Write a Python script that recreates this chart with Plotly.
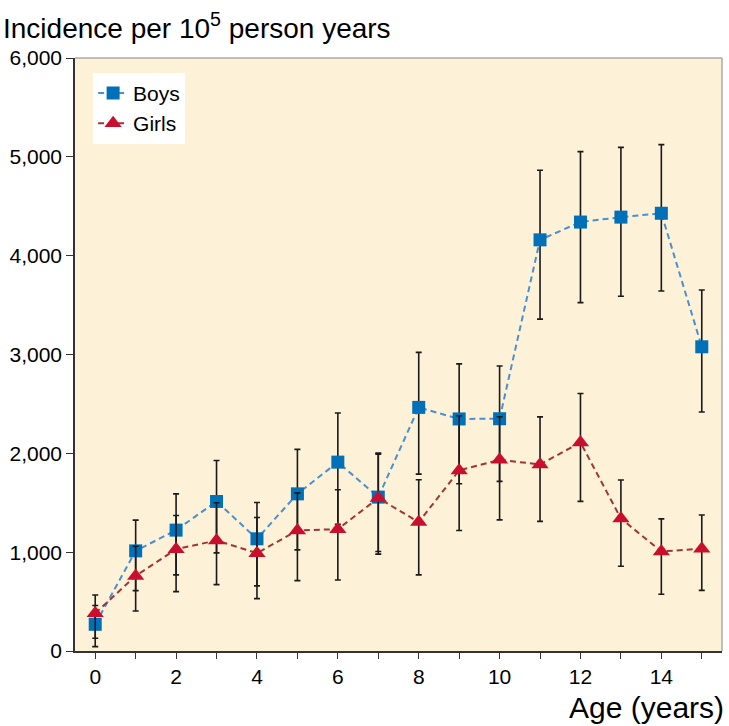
import plotly.graph_objects as go

ages = list(range(16))
boys = [270, 1013, 1223, 1513, 1135, 1590, 1911, 1557, 2465, 2348, 2350, 4160, 4340, 4390, 4429, 3078]
boys_lo = [44, 611, 770, 993, 659, 1023, 1283, 980, 1790, 1692, 1716, 3358, 3525, 3589, 3642, 2418]
boys_hi = [460, 1324, 1590, 1928, 1503, 2040, 2408, 2002, 3022, 2905, 2883, 4865, 5053, 5096, 5124, 3652]
girls = [382, 760, 1030, 1118, 990, 1219, 1233, 1547, 1304, 1827, 1935, 1887, 2110, 1340, 1007, 1035]
girls_lo = [129, 405, 601, 672, 530, 712, 719, 1006, 770, 1219, 1327, 1312, 1514, 858, 574, 613]
girls_hi = [567, 1060, 1371, 1500, 1351, 1600, 1631, 1990, 1733, 2380, 2370, 2369, 2606, 1730, 1337, 1376]
x_tick_vals = list(range(16))
x_tick_text = [str(a) if a % 2 == 0 else " " for a in x_tick_vals]
y_tick_vals = [0, 1000, 2000, 3000, 4000, 5000, 6000]

FONT = "Liberation Sans, Arial, Helvetica, sans-serif"

fig = go.Figure()
fig.add_trace(go.Scatter(
    x=ages, y=boys, name="Boys", mode="lines+markers",
    line=dict(color="#4A8FD3", width=2, dash="6px,4px"),
    marker=dict(symbol="square", size=13, color="#0070B8"),
    error_y=dict(type="data", symmetric=False,
                 array=[h - v for h, v in zip(boys_hi, boys)],
                 arrayminus=[v - l for l, v in zip(boys_lo, boys)],
                 color="#1a1a1a", thickness=1.6, width=3),
))
fig.add_trace(go.Scatter(
    x=ages, y=girls, name="Girls", mode="lines+markers",
    line=dict(color="#9E3636", width=2, dash="6px,4px"),
    marker=dict(symbol="triangle-up", size=15, color="#C8102E"),
    error_y=dict(type="data", symmetric=False,
                 array=[h - v for h, v in zip(girls_hi, girls)],
                 arrayminus=[v - l for l, v in zip(girls_lo, girls)],
                 color="#1a1a1a", thickness=1.6, width=3),
))

fig.update_layout(
    width=729, height=726,
    margin=dict(l=75, r=7, t=58, b=75),
    paper_bgcolor="white",
    plot_bgcolor="#FDF1D7",
    font=dict(family=FONT, size=20, color="black"),
    showlegend=True,
    legend=dict(x=0.028, y=0.975, xanchor="left", yanchor="top",
                bgcolor="white", font=dict(size=21),
                itemwidth=30, tracegroupgap=0),
    xaxis=dict(range=[-0.5, 15.5], tickvals=x_tick_vals, ticktext=x_tick_text,
               ticks="outside", ticklen=6, tickwidth=1, tickcolor="#333",
               showline=True, linecolor="#333", linewidth=1.5, mirror=False,
               showgrid=False, zeroline=False, tickfont=dict(size=21)),
    yaxis=dict(range=[0, 6000], tickvals=y_tick_vals, tickformat=",d",
               ticks="outside", ticklen=7, tickwidth=1, tickcolor="#333",
               showline=True, linecolor="#333", linewidth=1.5,
               showgrid=False, zeroline=False, tickfont=dict(size=21)),
    shapes=[
        dict(type="line", xref="paper", yref="paper", x0=0, x1=1, y0=1, y1=1,
             line=dict(color="#aaaaaa", width=1.5)),
        dict(type="line", xref="paper", yref="paper", x0=1, x1=1, y0=0, y1=1,
             line=dict(color="#aaaaaa", width=1.5)),
    ],
    annotations=[
        dict(text="Incidence per 10<sup>5</sup> person years", xref="paper", yref="paper",
             x=-0.114, y=1.0, xanchor="left", yanchor="bottom", yshift=12,
             showarrow=False, font=dict(size=28)),
        dict(text="Age (years)", xref="paper", yref="paper",
             x=1.006, y=0, xanchor="right", yanchor="top", yshift=-38,
             showarrow=False, font=dict(size=30)),
    ],
)

fig.write_html("out.html", config={"displayModeBar": False},
               post_script="document.body.style.margin='0px';")
